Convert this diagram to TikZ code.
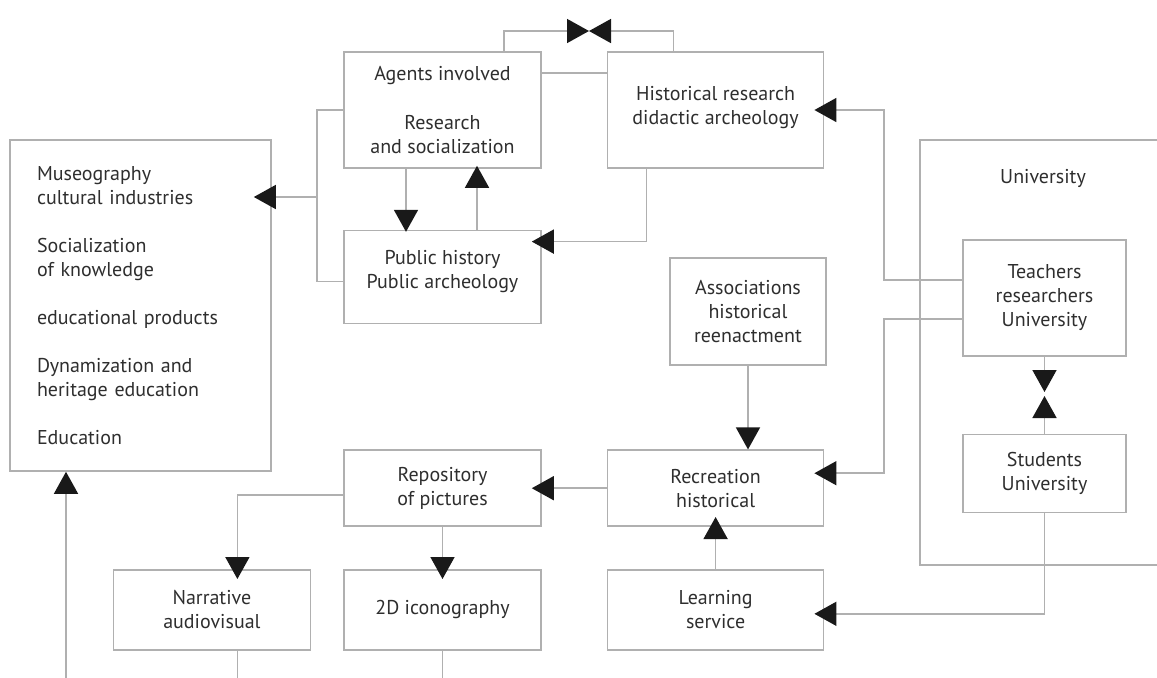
\documentclass[tikz,border=0pt]{standalone}
\usepackage{fontspec}
\setmainfont{PT Sans}
\usepackage{tikz}
\usetikzlibrary{positioning, arrows.meta}
\definecolor{wire}{HTML}{B0B0B0}
\definecolor{ink}{HTML}{2E2E2E}

\begin{document}
\begin{tikzpicture}[x=0.5pt, y=-0.5pt, font=\fontsize{10}{12}\selectfont]
    \tikzstyle{cell} = [rectangle, draw=wire, line width=0.8pt, text=ink, align=center, minimum width=98.5pt, inner sep=2pt]
    \tikzstyle{link} = [draw=wire, line width=0.8pt]
    \tikzstyle{arrow} = [link, -{Triangle[length=11pt, width=12pt, color=black!90]}, shorten >=-5pt]
    \useasboundingbox (0,0) rectangle (1157,677);

    \node (agents) [cell, minimum height=58pt] at (442.5,110) {Agents involved\\[12.5pt]Research\\and socialization};
    \node (hist) [cell, minimum width=108pt, minimum height=58pt, right=32.5pt of agents] {Historical research\\didactic archeology\\[-7pt]};
    \node (public) [cell, minimum height=46.5pt, below=30.5pt of agents] {Public history\\Public archeology\\[-4pt]};
    \node (museo) [cell, align=left, text width=103.5pt, inner xsep=13.5pt, minimum height=165.5pt] at (140.5,305.5) {Museography\\cultural industries\\[12pt]Socialization\\of knowledge\\[12pt]educational products\\[12pt]Dynamization and\\heritage education\\[12pt]Education};
    \node (univ) [text=ink] at (1043,178) {University};
    \node (teachers) [cell, minimum width=81.5pt, minimum height=58pt] at (1044.5,298) {Teachers\\researchers\\University};
    \node (students) [cell, minimum width=81.5pt, minimum height=39pt, below=38.5pt of teachers] {Students\\University};
    \node (assoc) [cell, minimum width=78pt, minimum height=53.5pt] at (748,311.5) {Associations\\historical\\reenactment};
    \node (repository) [cell, minimum height=38pt, below=62.5pt of public] {Repository\\of pictures};
    \node (recreation) [cell, minimum width=108pt, minimum height=38pt, right=32.5pt of repository] {Recreation\\historical};
    \node (icono) [cell, minimum height=40pt, below=21pt of repository] {2D iconography};
    \node (narrative) [cell, minimum height=40pt, left=16pt of icono] {Narrative\\audiovisual};
    \node (learning) [cell, minimum width=108pt, minimum height=40pt, below=21pt of recreation] {Learning\\service};

    % university frame runs off the right edge
    \draw[link] (1165,140) -- (920,140) -- (920,565) -- (1165,565);

    \coordinate (meet) at (589,31);
    \coordinate (tsmeet) at (1044.5,394);
    \coordinate (brk) at (317,197);
    \coordinate (eduin) at (66,680);

    \draw[arrow, shorten >=0pt] ([xshift=30.75pt]agents.north) |- (meet);
    \draw[arrow, shorten >=0pt] ([xshift=-21pt]hist.north) |- (meet);
    \draw[link] ([yshift=18.5pt]agents.east) -- ([yshift=18.5pt]hist.west);
    \draw[arrow, shorten >=-1pt] ([xshift=-18.25pt]agents.south) -- ([xshift=-18.25pt]public.north);
    \draw[arrow, shorten >=-1.5pt] ([xshift=17.25pt]public.north) -- ([xshift=17.25pt]agents.south);
    \draw[arrow] ([xshift=-34.5pt]hist.south) |- ([yshift=17.75pt]public.east);
    \draw[link] (agents.west) -| (brk) |- ([yshift=-2.25pt]public.west);
    \draw[arrow, shorten >=-9pt] (brk) -- (brk -| museo.east);
    \draw[arrow, shorten >=0pt] (eduin) -- (eduin |- museo.south);

    \draw[arrow] ([yshift=9pt]teachers.west) -- ++(-39pt,0) |- (hist.east);
    \draw[arrow] ([yshift=-10.5pt]teachers.west) -- ++(-39pt,0) |- ([yshift=7.5pt]recreation.east);
    \draw[arrow, shorten >=1pt] (teachers) -- (tsmeet);
    \draw[arrow, shorten >=1pt] (students) -- (tsmeet);
    \draw[arrow] (students.south) |- ([yshift=-2pt]learning.east);

    \draw[arrow, shorten >=0pt] (assoc.south) -- (assoc.south |- recreation.north);
    \draw[arrow] (recreation) -- (repository);
    \draw[arrow] (learning) -- (recreation);
    \draw[arrow] ([yshift=-3.5pt]repository.west) -| ([xshift=12.75pt]narrative.north);
    \draw[arrow] (repository) -- (icono);
    \draw[link] ([xshift=12.75pt]narrative.south) -- ++(0,-18pt);
    \draw[link] (icono.south) -- ++(0,-18pt);
\end{tikzpicture}
\end{document}
